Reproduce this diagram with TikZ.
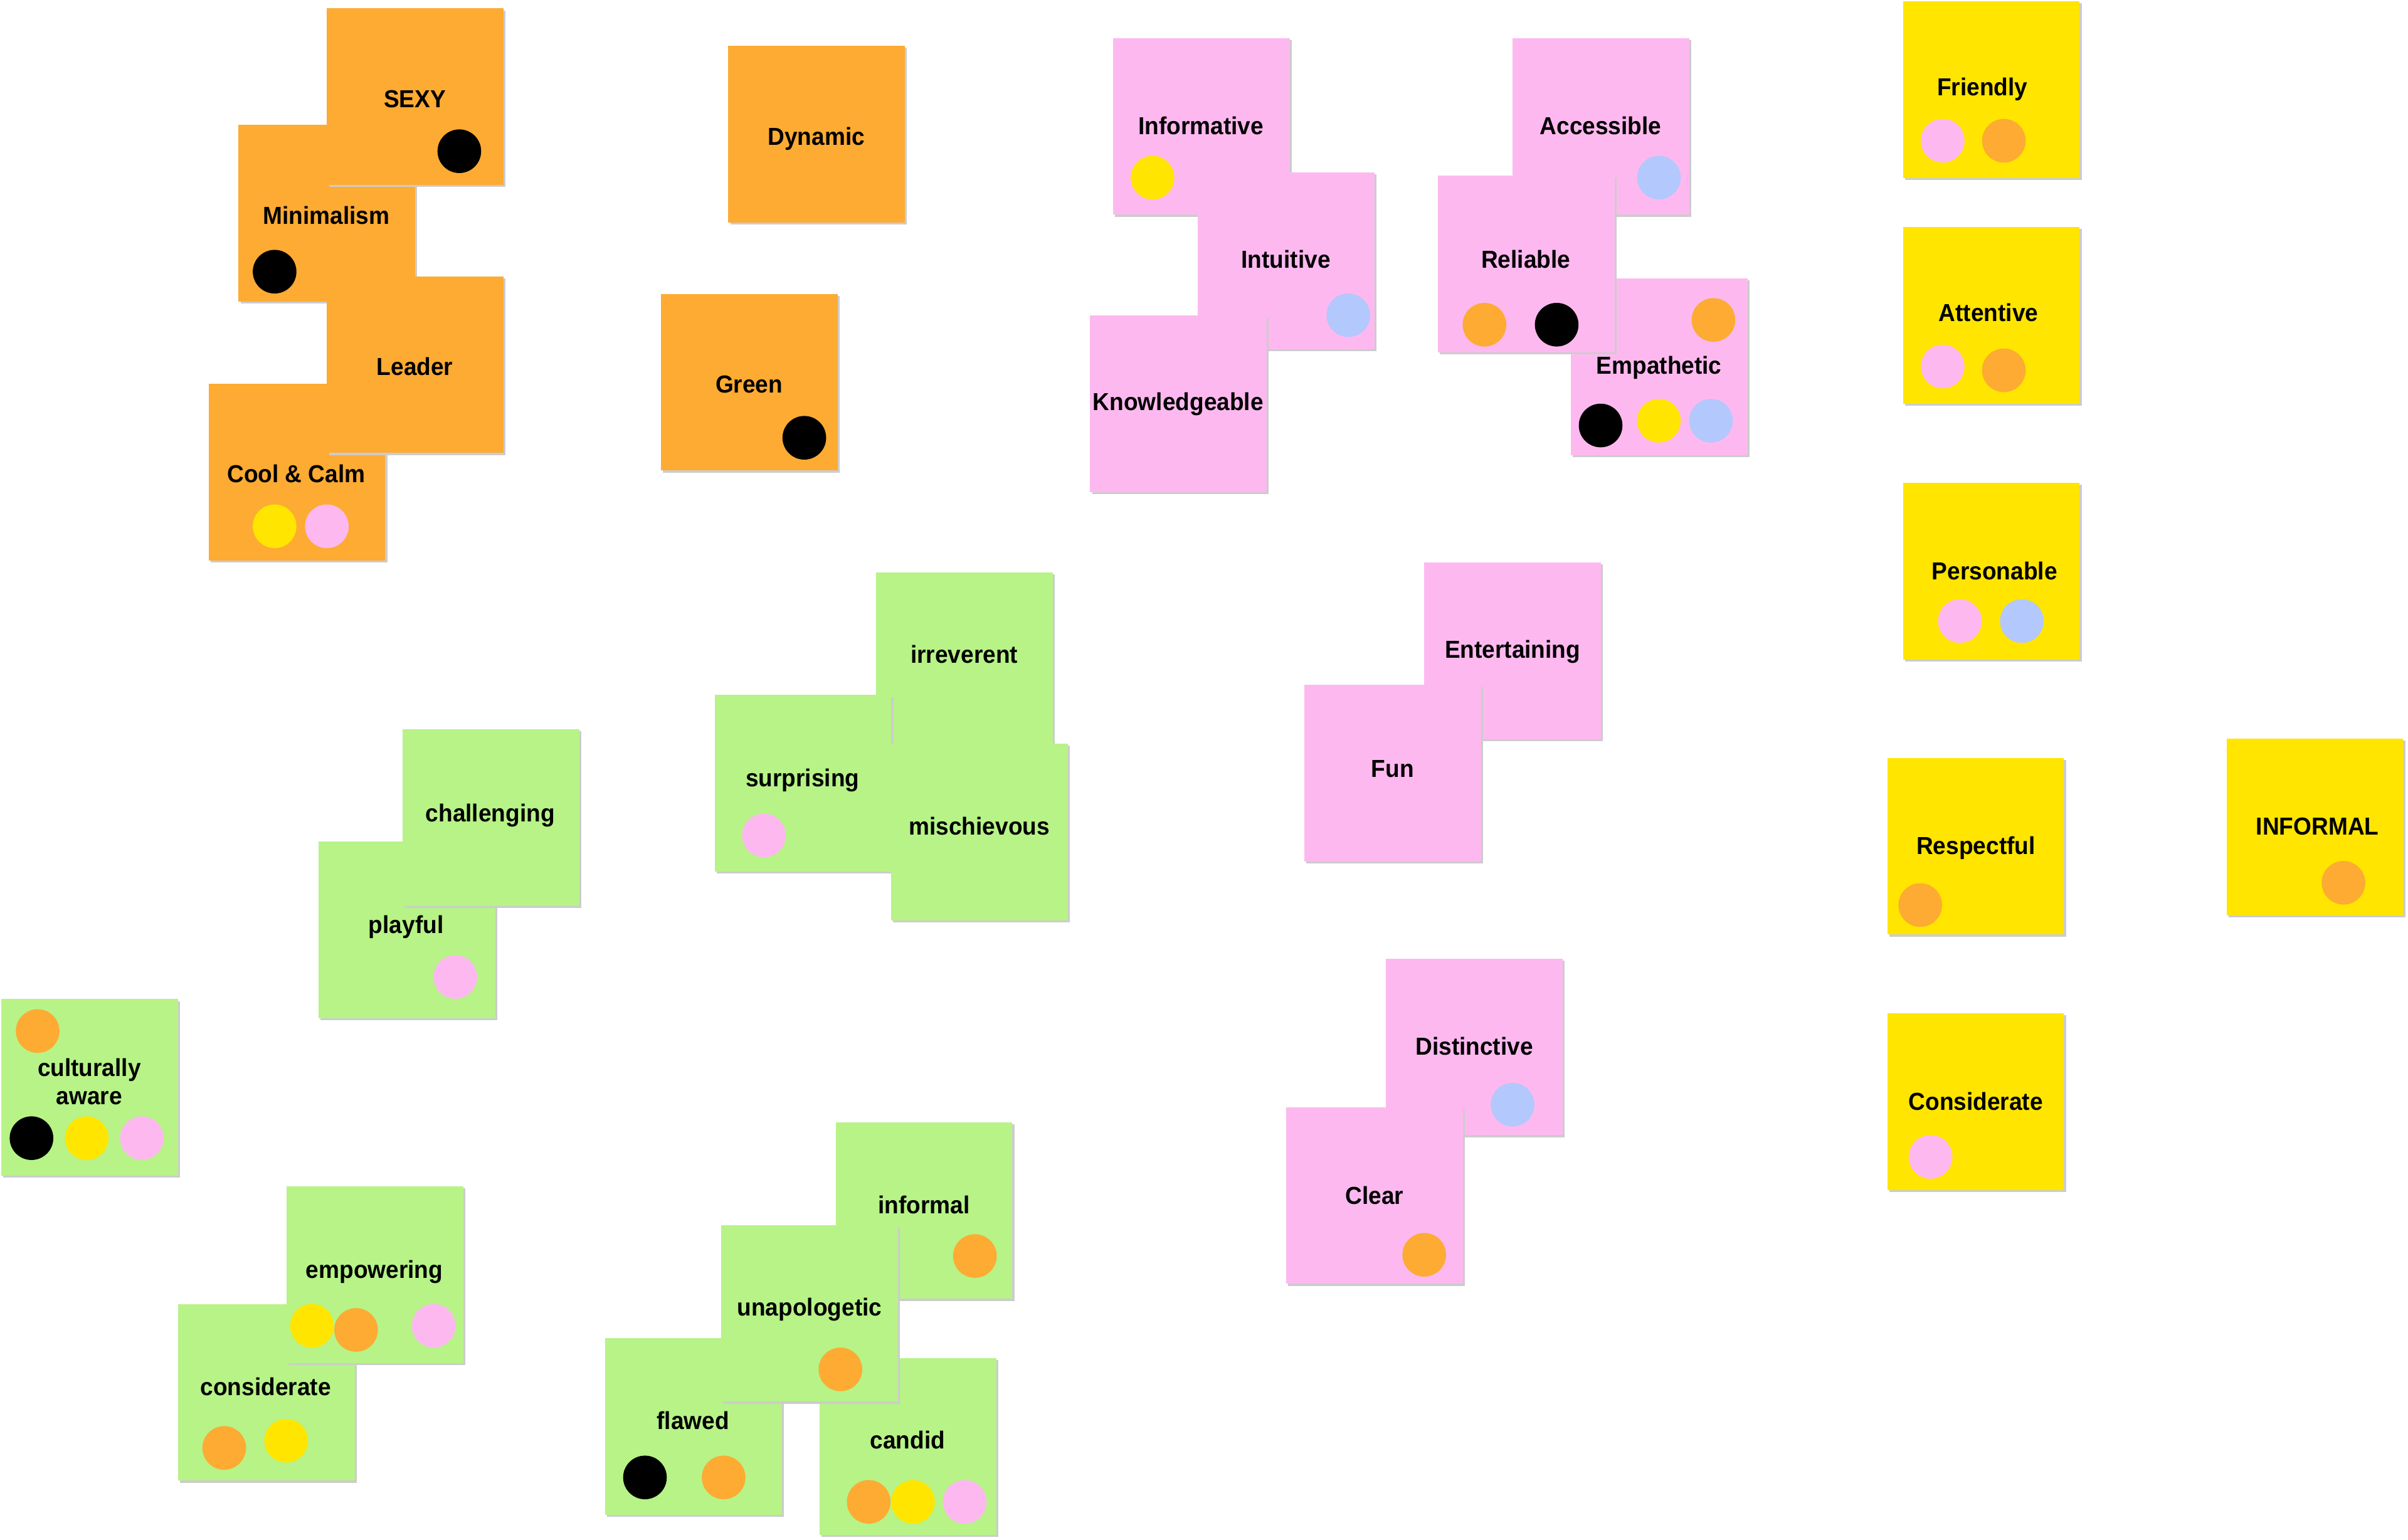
\documentclass[tikz,border=0pt]{standalone}
\usepackage{fontspec}
\setmainfont{Liberation Sans}[FakeStretch=0.945]
\usetikzlibrary{shadows}
\definecolor{cor}{HTML}{FDAB33}
\definecolor{cpk}{HTML}{FDB9EF}
\definecolor{cyl}{HTML}{FFE500}
\definecolor{cgr}{HTML}{B7F387}
\definecolor{cbl}{HTML}{B3C8FD}
\definecolor{cbk}{HTML}{000000}
\begin{document}
\begin{tikzpicture}[x=1pt,y=-1pt,
  note/.style={rectangle,minimum width=115pt,minimum height=115pt,inner sep=0pt,draw=none,
    drop shadow={shadow xshift=1.3pt,shadow yshift=-1.3pt,fill=black!20,opacity=1}},
  ornote/.style={note,fill=cor},
  pknote/.style={note,fill=cpk},
  ylnote/.style={note,fill=cyl},
  grnote/.style={note,fill=cgr},
  lbl/.style={font=\bfseries\fontsize{16}{19}\selectfont,inner sep=0pt,anchor=base,text=black},
  dot/.style={circle,minimum size=28.4pt,inner sep=0pt,draw=none},
  dbk/.style={dot,fill=cbk},
  dor/.style={dot,fill=cor},
  dyl/.style={dot,fill=cyl},
  dpk/.style={dot,fill=cpk},
  dbl/.style={dot,fill=cbl}]
\useasboundingbox (0,0) rectangle (1567,1002);
\fill[white] (0,0) rectangle (1567,1002);

% ---------- orange ----------
\node[ornote] (coolcalm) at (193.2,307.3) {};
\node[lbl] (coolcalmT) at (192.8,314.1) {Cool \& Calm};
\node[dyl] (coolcalmD1) at (178.7,342.5) {};
\node[dpk] (coolcalmD2) at (212.7,342.5) {};

\node[ornote] (minimal) at (212.7,138.6) {};
\node[lbl] (minimalT) at (212.4,145.9) {Minimalism};
\node[dbk] (minimalD1) at (178.7,176.8) {};

\node[ornote] (leader) at (270.3,237.3) {};
\node[lbl] (leaderT) at (270,244.4) {Leader};

\node[ornote] (sexy) at (270.3,63) {};
\node[lbl] (sexyT) at (270,70) {SEXY};
\node[dbk] (sexyD1) at (298.9,98.4) {};

\node[ornote] (dynamic) at (531.4,87.4) {};
\node[lbl] (dynamicT) at (531.2,94.5) {Dynamic};

\node[ornote] (green) at (487.7,248.7) {};
\node[lbl] (greenT) at (487.5,255.5) {Green};
\node[dbk] (greenD1) at (523.4,284.9) {};

% ---------- pink ----------
\node[pknote] (informative) at (781.7,82.2) {};
\node[lbl] (informativeT) at (781.5,87.4) {Informative};
\node[dyl] (informativeD1) at (750,115.6) {};

\node[pknote] (intuitive) at (836.9,169.7) {};
\node[lbl] (intuitiveT) at (836.8,174.5) {Intuitive};
\node[dbl] (intuitiveD1) at (877.4,205.1) {};

\node[pknote] (knowledge) at (766.9,262.9) {};
\node[lbl] (knowledgeT) at (766.7,267.1) {Knowledgeable};

\node[pknote] (accessible) at (1041.8,82.2) {};
\node[lbl] (accessibleT) at (1041.6,87.4) {Accessible};
\node[dbl] (accessibleD1) at (1079.5,115.6) {};

\node[pknote] (empathetic) at (1079.7,238.8) {};
\node[lbl] (empatheticT) at (1079.6,243.6) {Empathetic};
\node[dor] (empatheticD1) at (1115,208.2) {};
\node[dbk] (empatheticD2) at (1041.6,276.9) {};
\node[dyl] (empatheticD3) at (1079.5,273.8) {};
\node[dbl] (empatheticD4) at (1113.4,273.8) {};

\node[pknote] (reliable) at (993.1,171.8) {};
\node[lbl] (reliableT) at (992.9,174.5) {Reliable};
\node[dor] (reliableD1) at (966,211.3) {};
\node[dbk] (reliableD2) at (1013,211.3) {};

\node[pknote] (entertaining) at (984.2,423.5) {};
\node[lbl] (entertainingT) at (984.3,428.4) {Entertaining};

\node[pknote] (fun) at (906.3,503) {};
\node[lbl] (funT) at (906.3,505.9) {Fun};

\node[pknote] (distinctive) at (959.4,681.3) {};
\node[lbl] (distinctiveT) at (959.4,686.4) {Distinctive};
\node[dbl] (distinctiveD1) at (984.3,718.9) {};

\node[pknote] (clear) at (894.4,778) {};
\node[lbl] (clearT) at (894.5,783.8) {Clear};
\node[dor] (clearD1) at (926.8,816.6) {};

% ---------- yellow ----------
\node[ylnote] (friendly) at (1295.8,58.3) {};
\node[lbl] (friendlyT) at (1290,62.4) {Friendly};
\node[dpk] (friendlyD1) at (1264.2,91.6) {};
\node[dor] (friendlyD2) at (1304,91.6) {};

\node[ylnote] (attentive) at (1295.8,205.3) {};
\node[lbl] (attentiveT) at (1294,209.3) {Attentive};
\node[dpk] (attentiveD1) at (1264.2,238.5) {};
\node[dor] (attentiveD2) at (1304,241) {};

\node[ylnote] (personable) at (1295.8,371.6) {};
\node[lbl] (personableT) at (1298,377.3) {Personable};
\node[dpk] (personableD1) at (1275.4,404.2) {};
\node[dbl] (personableD2) at (1315.7,404.2) {};

\node[ylnote] (respectful) at (1285.6,550.7) {};
\node[lbl] (respectfulT) at (1285.8,555.9) {Respectful};
\node[dor] (respectfulD1) at (1249.6,589) {};

\node[ylnote] (informalY) at (1506.4,538.3) {};
\node[lbl] (informalYT) at (1508.1,543.2) {INFORMAL};
\node[dor] (informalYD1) at (1525,574.5) {};

\node[ylnote] (considerY) at (1285.6,717) {};
\node[lbl] (considerYT) at (1285.7,722.3) {Considerate};
\node[dpk] (considerYD1) at (1256.3,752.9) {};

% ---------- green ----------
\node[grnote] (irreverent) at (627.5,429.9) {};
\node[lbl] (irreverentT) at (627.5,431.7) {irreverent};

\node[grnote] (surprising) at (522.5,509.8) {};
\node[lbl] (surprisingT) at (522.2,511.8) {surprising};
\node[dpk] (surprisingD1) at (497.1,543.7) {};

\node[grnote] (mischievous) at (637.3,541.4) {};
\node[lbl] (mischievousT) at (637.3,543.4) {mischievous};

\node[grnote] (playful) at (264.8,605) {};
\node[lbl] (playfulT) at (264.3,607.3) {playful};
\node[dpk] (playfulD1) at (296.3,635.8) {};

\node[grnote] (challenging) at (319.4,532) {};
\node[lbl] (challengingT) at (319,534.6) {challenging};

\node[grnote] (cultural) at (58.2,707.7) {};
\node[lbl] (culturalT1) at (58.1,700.4) {culturally};
\node[lbl] (culturalT2) at (58.1,719) {aware};
\node[dor] (culturalD1) at (24.5,671) {};
\node[dbk] (culturalD2) at (20.5,740.7) {};
\node[dyl] (culturalD3) at (56.4,740.7) {};
\node[dpk] (culturalD4) at (92.3,740.7) {};

\node[grnote] (considerG) at (173.4,906.1) {};
\node[lbl] (considerGT) at (172.9,908.2) {considerate};
\node[dor] (considerGD1) at (145.9,942.3) {};
\node[dyl] (considerGD2) at (186.2,937.6) {};

\node[grnote] (empowering) at (243.9,829.5) {};
\node[lbl] (empoweringT) at (243.6,832) {empowering};
\node[dyl] (empoweringD1) at (203,862.8) {};
\node[dor] (empoweringD2) at (231.7,865.5) {};
\node[dpk] (empoweringD3) at (282.2,862.8) {};

\node[grnote] (informalG) at (601.3,787.8) {};
\node[lbl] (informalGT) at (601.2,789.7) {informal};
\node[dor] (informalGD1) at (634.4,817.4) {};

\node[grnote] (flawed) at (451.2,928.4) {};
\node[lbl] (flawedT) at (451,930.3) {flawed};
\node[dbk] (flawedD1) at (419.7,961.5) {};
\node[dor] (flawedD2) at (470.9,961.5) {};

\node[grnote] (candid) at (590.8,941.3) {};
\node[lbl] (candidT) at (590.6,942.9) {candid};
\node[dor] (candidD1) at (565.3,977.4) {};
\node[dyl] (candidD2) at (594.1,977.4) {};
\node[dpk] (candidD3) at (627.8,977.4) {};

\node[grnote] (unapologetic) at (526.7,854.7) {};
\node[lbl] (unapologeticT) at (526.8,856.5) {unapologetic};
\node[dor] (unapologeticD1) at (546.9,891.2) {};
\end{tikzpicture}
\end{document}
